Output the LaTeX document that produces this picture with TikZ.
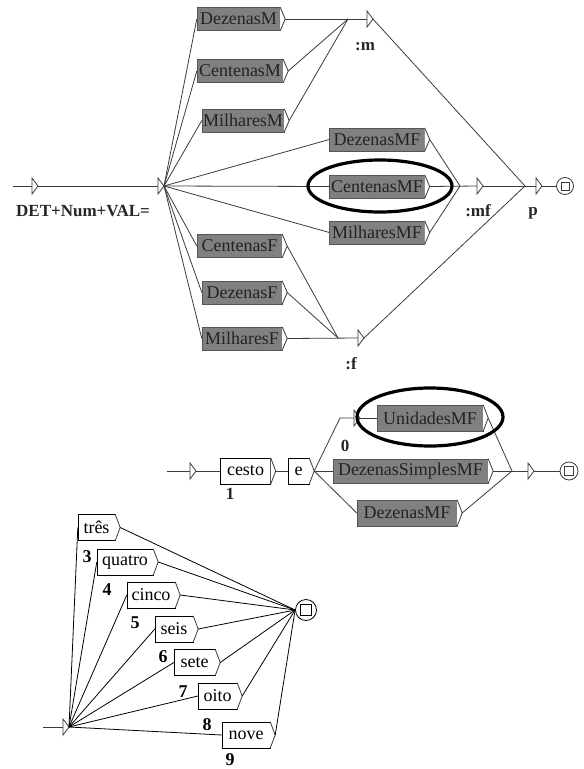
\documentclass[tikz,border=0pt]{standalone}
\usepackage{fontspec}
\setmainfont{Liberation Serif}
\usetikzlibrary{shapes.geometric}
\definecolor{gfill}{RGB}{128,128,128}
\definecolor{gedge}{RGB}{85,85,85}
\definecolor{gtext}{RGB}{35,35,35}
\definecolor{lcol}{RGB}{60,60,60}
\tikzset{
 gbox/.style={rectangle, fill=gfill, draw=gedge, text=gtext, inner sep=0pt, minimum height=23pt, font=\fontsize{18}{18}\selectfont},
 wbox/.style={rectangle, fill=white, draw=black, inner sep=0pt, minimum height=26pt, font=\fontsize{18}{18}\selectfont},
 conn/.style={draw=lcol, line width=0.8pt},
 lab/.style={font=\bfseries\fontsize{17}{17}\selectfont, inner sep=0pt, text=black!85},
 num/.style={font=\bfseries\fontsize{18}{18}\selectfont, inner sep=0pt},
 finst/.style={circle, draw=lcol, fill=white, inner sep=0pt, line width=0.8pt},
 finsq/.style={rectangle, draw=lcol, inner sep=0pt, line width=0.8pt},
 mark ellipse/.style={ellipse, draw=black, line width=3.2pt, inner sep=0pt},
}
\newcommand\mychev[1]{\draw[conn, fill=white] (#1.north east) -- ([xshift=5pt]#1.east) coordinate (#1-o) -- (#1.south east);}
\newcommand\myeps[2]{\coordinate (#1) at #2; \draw[conn, fill=white] ([yshift=8pt]#1) -- ([yshift=-8pt]#1) -- ([xshift=6pt]#1) coordinate (#1-o) -- cycle;}
\begin{document}
\begin{tikzpicture}[x=1pt,y=-1pt]
\useasboundingbox (0,0) rectangle (584,769);
\fill[white] (0,0) rectangle (584,769);

% ---------------- top graph ----------------
\coordinate (s1) at (13,186);
\coordinate (jm) at (348,19);
\coordinate (jmf) at (460,186);
\coordinate (jf) at (338,338);
\coordinate (jp) at (525,186);

\node[gbox, minimum width=83pt] (DzM) at (238.5,19) {DezenasM};
\node[gbox, minimum width=86pt] (CnM) at (240,71) {CentenasM};
\node[gbox, minimum width=82pt] (MlM) at (243,120.5) {MilharesM};
\node[gbox, minimum width=95pt] (DzMF) at (377,139.5) {DezenasMF};
\node[gbox, minimum width=95pt] (CnMF) at (377,186.5) {CentenasMF};
\node[gbox, minimum width=95pt] (MlMF) at (377,232.5) {MilharesMF};
\node[gbox, minimum width=85pt] (CnF) at (239.5,246) {CentenasF};
\node[gbox, minimum width=80pt] (DzF) at (242,292.5) {DezenasF};
\node[gbox, minimum width=80pt] (MlF) at (242,338.5) {MilharesF};
\foreach \n in {DzM,CnM,MlM,DzMF,CnMF,MlMF,CnF,DzF,MlF} {\mychev{\n}}

\draw[conn] (s1) -- (158,186) coordinate (hub1);
\myeps{i1}{(32,186)}
\myeps{h1}{(158,186)}
\myeps{tm}{(367,19)}
\myeps{tmf}{(477,186)}
\myeps{tf}{(358,338)}
\myeps{tp}{(536,186)}

\foreach \n in {DzM,CnM,MlM,DzMF,CnMF,MlMF,CnF,DzF,MlF} {\draw[conn] (h1-o) -- (\n.west);}
\draw[conn] (DzM-o) -- (tm);
\draw[conn] (CnM-o) -- (jm);
\draw[conn] (MlM-o) -- (jm);
\draw[conn] (CnMF-o) -- (tmf);
\draw[conn] (DzMF-o) -- (jmf);
\draw[conn] (MlMF-o) -- (jmf);
\draw[conn] (MlF-o) -- (tf);
\draw[conn] (CnF-o) -- (jf);
\draw[conn] (DzF-o) -- (jf);
\draw[conn] (tm-o) -- (jp);
\draw[conn] (tf-o) -- (jp);
\draw[conn] (tmf-o) -- (tp);
\node[finst, minimum size=17pt] (f1) at (565,186) {};
\node[finsq, minimum size=8pt] (f1s) at (f1) {};
\draw[conn] (tp-o) -- (f1.west);

\node[lab] (lDET) at (83,211) {DET+Num+VAL=};
\node[lab] (lm) at (365,47) {:m};
\node[lab] (lmf) at (478,211) {:mf};
\node[lab] (lp) at (533,213) {p};
\node[lab] (lf) at (351,364) {:f};

\node[mark ellipse, minimum width=144pt, minimum height=52pt] (E1) at (380,186) {};

% ---------------- middle graph ----------------
\coordinate (s2) at (167,471);
\coordinate (b0) at (340,418);
\coordinate (j2) at (512,471);
\node[wbox, minimum width=50pt] (cesto) at (245.5,471) {cesto};
\node[wbox, minimum width=21pt] (ebox) at (298.5,471) {e};
\node[gbox, minimum width=106pt, minimum height=26pt] (Un) at (430,418) {UnidadesMF};
\node[gbox, minimum width=155pt, minimum height=24pt] (DzS) at (410.5,471) {DezenasSimplesMF};
\node[gbox, minimum width=100pt, minimum height=26pt] (Dz2) at (407,513) {DezenasMF};
\foreach \n in {cesto,ebox,Un,DzS,Dz2} {\mychev{\n}}
\myeps{i2}{(190,471)}
\myeps{t0}{(354,418)}
\myeps{t2}{(528,471)}
\draw[conn] (s2) -- (i2);
\draw[conn] (i2-o) -- (cesto.west);
\draw[conn] (cesto-o) -- (ebox.west);
\draw[conn] (ebox-o) -- (b0) -- (t0);
\draw[conn] (t0-o) -- (Un.west);
\draw[conn] (ebox-o) -- (DzS.west);
\draw[conn] (ebox-o) -- (Dz2.west);
\draw[conn] (Un-o) -- (j2);
\draw[conn] (DzS-o) -- (j2);
\draw[conn] (Dz2-o) -- (j2);
\draw[conn] (j2) -- (t2);
\node[finst, minimum size=18pt] (f2) at (569,471) {};
\node[finsq, minimum size=9pt] (f2s) at (f2) {};
\draw[conn] (t2-o) -- (f2.west);
\node[lab] (l1) at (230,494) {1};
\node[lab] (l0) at (345,446) {0};
\node[mark ellipse, minimum width=146pt, minimum height=58pt] (E2) at (430,417) {};

% ---------------- bottom graph ----------------
\coordinate (s3) at (43,727);
\node[wbox, minimum width=37pt] (tres) at (96.5,527.5) {três};
\node[wbox, minimum width=56pt] (quatro) at (125,562) {quatro};
\node[wbox, minimum width=48pt] (cinco) at (151,595) {cinco};
\node[wbox, minimum width=38pt] (seis) at (174,629) {seis};
\node[wbox, minimum width=41pt] (sete) at (194.5,662.5) {sete};
\node[wbox, minimum width=39pt] (oito) at (217.5,696) {oito};
\node[wbox, minimum width=48pt] (nove) at (246,735) {nove};
\foreach \n in {tres,quatro,cinco,seis,sete,oito,nove} {\mychev{\n}}
\myeps{h3}{(63,727)}
\draw[conn] (s3) -- (h3);
\node[finst, minimum size=21pt, draw=black] (f3) at (306,610) {};
\node[finsq, minimum size=11pt, draw=black] (f3s) at (f3) {};
\foreach \n in {tres,quatro,cinco,seis,sete,oito,nove} {\draw[conn, draw=black] (h3-o) -- (\n.west); \draw[conn, draw=black] (\n-o) -- (f3.west);}
\node[num] (n3) at (87,557) {3};
\node[num] (n4) at (107,590) {4};
\node[num] (n5) at (135,623) {5};
\node[num] (n6) at (163,657) {6};
\node[num] (n7) at (183,692) {7};
\node[num] (n8) at (207,725) {8};
\node[num] (n9) at (230,760) {9};
\end{tikzpicture}
\end{document}
